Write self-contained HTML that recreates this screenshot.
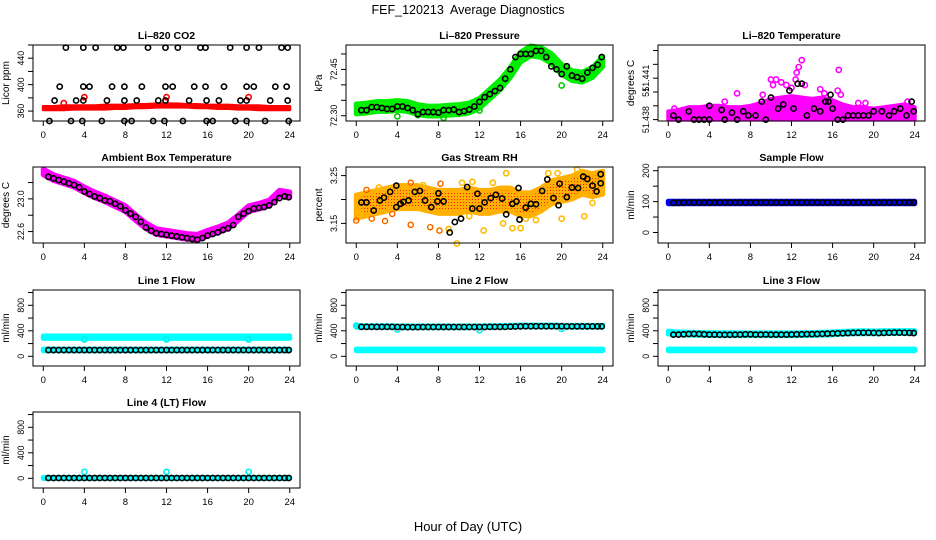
<!DOCTYPE html>
<html><head><meta charset="utf-8"><style>
html,body{margin:0;padding:0;background:#fff;}
svg{display:block;font-family:"Liberation Sans",sans-serif;}
.pre{white-space:pre;}
</style></head><body>
<svg id="chart" width="936" height="540" viewBox="0 0 936 540" xmlns="http://www.w3.org/2000/svg">
<defs>
<pattern id="rhpat" width="3" height="3" patternUnits="userSpaceOnUse">
<rect width="3" height="3" fill="#ffb000"/>
<rect x="1" y="1" width="1" height="1" fill="#ff2000"/>
</pattern>
</defs>
<rect width="936" height="540" fill="#fff"/>
<text class="pre" x="468" y="14" text-anchor="middle" font-size="12.5">FEF_120213  Average Diagnostics</text>
<text x="468" y="531" text-anchor="middle" font-size="13">Hour of Day (UTC)</text>
</svg>
<script>
const T=[0.5,1,1.5,2,2.5,3,3.5,4,4.5,5,5.5,6,6.5,7,7.5,8,8.5,9,9.5,10,10.5,11,11.5,12,12.5,13,13.5,14,14.5,15,15.5,16,16.5,17,17.5,18,18.5,19,19.5,20,20.5,21,21.5,22,22.5,23,23.5,23.9];
const H=[0,1,2,3,4,5,6,7,8,9,10,11,12,13,14,15,16,17,18,19,20,21,22,23,24];
const xTicks=[0,4,8,12,16,20,24];

// CO2
const co2BandLo=[362,362,362,363,363,363,363,364,364,365,365,366,366,366,366,365,365,364,364,363,363,362,362,362,362];
const co2BandHi=[367,367,368,368,368,368,369,369,369,370,370,371,371,371,370,370,369,369,369,368,368,368,367,367,367];
const co2RedT=[2,4,12,20];
const co2RedV=[372,381,381,381];
const co2BlackT=[2.2,3.9,5.1,7.2,7.8,10.2,11.9,13.1,15.3,15.8,18.2,19.8,21.0,23.2,23.8, 1.6,3.9,4.5,6.7,7.9,9.6,11.9,12.6,14.7,15.8,17.6,19.8,20.5,22.6,23.7, 1.1,3.2,3.9,6.2,7.9,9.1,11.2,11.9,14.2,15.9,17.1,19.2,19.8,22.1,23.8, 0.6,2.7,3.8,5.7,7.9,8.6,10.7,11.8,13.6,15.9,16.5,18.7,19.8,21.6,23.9];
const co2BlackV=[456,456,456,456,456,456,456,456,456,456,456,456,456,456,456, 397,397,397,397,397,397,397,397,397,397,397,397,397,397,397, 376,376,376,376,376,376,376,376,376,376,376,376,376,376,376, 345,345,345,345,345,345,345,345,345,345,345,345,345,345,345];

// Pressure
const presCenter=[72.322,72.325,72.33,72.33,72.333,72.33,72.32,72.315,72.315,72.318,72.32,72.325,72.34,72.37,72.40,72.44,72.49,72.51,72.505,72.485,72.45,72.43,72.425,72.44,72.475];
const presOutT=[4,12,20,6,8.5];
const presOutV=[72.298,72.317,72.398,72.302,72.293];
const presBlack=[72.318,72.318,72.328,72.328,72.325,72.322,72.322,72.33,72.33,72.325,72.318,72.305,72.312,72.312,72.312,72.31,72.318,72.318,72.32,72.312,72.315,72.32,72.33,72.345,72.36,72.37,72.38,72.39,72.42,72.45,72.49,72.50,72.5,72.5,72.51,72.51,72.49,72.46,72.45,72.435,72.46,72.43,72.425,72.42,72.44,72.455,72.465,72.49];

// Li-820 temperature
const tempUpper=[51.4386,51.4387,51.4389,51.4389,51.439,51.439,51.4389,51.4389,51.439,51.4392,51.4395,51.4396,51.4397,51.4396,51.4395,51.4396,51.4394,51.4391,51.4389,51.4389,51.4388,51.4389,51.439,51.4391,51.4389];
const tempLower=[51.438,51.438,51.438,51.438,51.438,51.438,51.438,51.438,51.438,51.438,51.438,51.438,51.438,51.438,51.438,51.438,51.438,51.438,51.438,51.438,51.438,51.438,51.438,51.438,51.438];
const tempOutT=[10,10.5,11,12.5,12.7,13,12.4,16.6,16.5,11.5,6.7,5.5,9.2,14.8,15.2,18.5,19.2,23.3,12,13.3,0.6,10.2,16.8];
const tempOutV=[51.4409,51.4409,51.4407,51.4414,51.4418,51.4423,51.4409,51.4416,51.4401,51.4405,51.4399,51.4393,51.4398,51.4402,51.4399,51.4392,51.4392,51.4393,51.4403,51.4405,51.4388,51.4405,51.4398];
const tempBlackT=[0.5,1,2,2.5,3,3.5,4,4,5.2,5.5,6.2,6.7,7.3,7.8,8.5,9.1,9.5,10,10.7,11.2,11.8,12.2,12.6,13,13.5,14.2,14.8,15.3,15.6,15.8,16,16.5,17,17.5,18,18.5,19,19.5,20,20.8,21.5,22,22.6,23.2,23.7,23.9];
const tempBlackV=[51.4383,51.438,51.4386,51.438,51.438,51.438,51.439,51.438,51.4387,51.438,51.4385,51.438,51.4386,51.4383,51.4383,51.4393,51.438,51.4396,51.4388,51.4391,51.4401,51.4388,51.4406,51.4406,51.4383,51.4388,51.4386,51.4393,51.4393,51.4398,51.4388,51.438,51.438,51.4383,51.4383,51.4383,51.4383,51.4383,51.4386,51.4386,51.4383,51.4386,51.4388,51.4383,51.4393,51.4386];

// Ambient box temperature
const ambCenter=[23.33,23.26,23.22,23.18,23.11,23.05,23.00,22.94,22.88,22.77,22.67,22.60,22.58,22.56,22.54,22.53,22.58,22.62,22.67,22.77,22.88,22.91,22.95,23.07,23.05];
const ambBlack=[23.27,23.25,23.23,23.21,23.19,23.17,23.14,23.09,23.06,23.03,23.01,22.98,22.97,22.94,22.91,22.86,22.82,22.78,22.72,22.65,22.61,22.58,22.57,22.56,22.55,22.54,22.53,22.52,22.51,22.50,22.52,22.55,22.57,22.59,22.62,22.64,22.68,22.78,22.82,22.85,22.88,22.89,22.90,22.92,22.96,23.01,23.03,23.02];

// Gas stream RH
const rhCenter=[3.185,3.19,3.195,3.20,3.205,3.205,3.205,3.20,3.195,3.195,3.195,3.20,3.195,3.195,3.20,3.20,3.19,3.19,3.20,3.215,3.22,3.225,3.235,3.23,3.235];
const rhOutT=[0,1,1.5,2.8,3.5,5.3,5.3,7.2,8.1,8.2,9,9.8,10.3,11.3,12.4,13.3,14.3,14.6,15.2,16,17.5,19.6,20,18.7,22.2,23,21.5,0.3,2.2,6.5,11,16.5];
const rhOutV=[3.156,3.22,3.16,3.155,3.17,3.147,3.235,3.142,3.135,3.233,3.138,3.108,3.235,3.237,3.135,3.235,3.15,3.255,3.14,3.14,3.157,3.255,3.16,3.255,3.165,3.193,3.263,3.17,3.225,3.23,3.165,3.16];
const rhBlackT=[0.5,1,1.7,2.3,2.7,3.3,3.9,3.9,4.3,4.6,5.1,5.7,6.2,6.7,7.3,7.9,8,8.5,9.1,9.6,10.2,10.8,11.3,11.8,12,12.5,13.1,13.6,14.2,14.6,15.2,15.6,15.8,15.9,16.5,17,17.5,18.1,18.6,19.2,19.7,19.8,20.5,21,21.6,22.1,22.5,23,23.4,23.8,23.8];
const rhBlackV=[3.194,3.194,3.177,3.198,3.204,3.216,3.229,3.184,3.191,3.195,3.198,3.216,3.218,3.198,3.184,3.196,3.213,3.196,3.131,3.153,3.160,3.226,3.181,3.212,3.181,3.194,3.203,3.210,3.202,3.169,3.191,3.196,3.224,3.158,3.183,3.191,3.190,3.218,3.242,3.203,3.188,3.233,3.205,3.225,3.224,3.248,3.243,3.229,3.217,3.253,3.234];

// Flows
const sampleCenter=[97,97,97,97,97,97,97,97,97,97,97,97,97,97,97,97,97,97,97,97,97,97,97,97,97];
const sampleBlack=[96,96,97,97,97,97,97,97,97,97,97,97,97,97,97,97,97,97,97,97,97,97,97,97,97,97,97,97,97,97,97,97,97,97,97,97,97,97,97,97,97,97,97,97,97,97,97,97];
const line1Cyan=[300,300,300,300,300,300,300,300,300,300,300,300,300,300,300,300,300,300,300,300,300,300,300,300,300];
const line1CyanLow=[100,100,100,100,100,100,100,100,100,100,100,100,100,100,100,100,100,100,100,100,100,100,100,100,100];
const line1DipT=[4,12,20];
const line1DipV=[265,265,265];
const line1Black=[98,98,98,98,98,98,98,98,98,98,98,98,98,98,98,98,98,98,98,98,98,98,98,98,98,98,98,98,98,98,98,98,98,98,98,98,98,98,98,98,98,98,98,98,98,98,98,98];
const line2Cyan=[470,465,465,465,462,462,462,462,462,462,462,462,462,465,468,472,475,475,475,475,472,472,472,472,472];
const line2CyanLow=[100,100,100,100,100,100,100,100,100,100,100,100,100,100,100,100,100,100,100,100,100,100,100,100,100];
const line2DipT=[0,4,12,20];
const line2DipV=[480,420,410,430];
const line2Black=[462,462,462,462,462,462,462,460,460,458,458,458,460,460,460,460,460,460,460,460,460,460,460,460,460,462,462,462,462,465,468,470,472,472,472,472,472,472,472,472,470,470,470,470,470,470,470,470];
const line3Cyan=[372,360,355,352,350,348,347,346,346,346,346,346,346,348,350,355,360,370,375,378,375,378,380,380,378];
const line3CyanLow=[100,100,100,100,100,100,100,100,100,100,100,100,100,100,100,100,100,100,100,100,100,100,100,100,100];
const line3Black=[340,340,345,350,352,350,345,340,340,338,338,338,340,340,345,345,340,340,342,340,340,340,340,342,345,345,348,348,350,352,355,358,360,362,365,368,370,370,370,368,365,368,370,372,372,370,368,365];
const line4Cyan=[5,5,5,5,5,5,5,5,5,5,5,5,5,5,5,5,5,5,5,5,5,5,5,5,5];
const line4SpikeT=[4,12,20];
const line4SpikeV=[100,100,100];
const line4Black=[5,5,5,5,5,5,5,5,5,5,5,5,5,5,5,5,5,5,5,5,5,5,5,5,5,5,5,5,5,5,5,5,5,5,5,5,5,5,5,5,5,5,5,5,5,5,5,5];

const NS="http://www.w3.org/2000/svg";
const svg=document.getElementById('chart');
const colL=[33,346,658], rowT=[45,167,290,412], PW=267, PH=76;
function mk(tag,attrs,parent){const e=document.createElementNS(NS,tag);for(const k in attrs)e.setAttribute(k,attrs[k]);(parent||svg).appendChild(e);return e;}

function panel(name,col,row,title,ylab,ymin,ymax,ticks,labels){
  const L=colL[col],Tp=rowT[row];
  const g=mk('g',{});
  
  
  const x=h=>L+(h+1)/26*PW;
  const y=v=>Tp+PH-(v-ymin)/(ymax-ymin)*PH;
  const tt=mk('text',{x:L+PW/2,y:Tp-6,'text-anchor':'middle','font-size':'10.5','font-weight':'bold'},g);
  tt.textContent=title;
  
  
  const yl=mk('text',{transform:`translate(${L-24},${Tp+PH/2}) rotate(-90)`,'text-anchor':'middle','font-size':'10'},g);
  yl.textContent=ylab;
  
  
  const ax=mk('g',{},g);
  
  
  xTicks.forEach(h=>{
    mk('line',{x1:x(h),x2:x(h),y1:Tp+PH,y2:Tp+PH+5,stroke:'#000','stroke-width':1},ax);
    const t=mk('text',{x:x(h),y:Tp+PH+17,'text-anchor':'middle','font-size':'9.5'},ax);t.textContent=h;
    
    
  });
  const ay=mk('g',{},g);
  
  
  ticks.forEach((v,i)=>{
    mk('line',{x1:L-5,x2:L,y1:y(v),y2:y(v),stroke:'#000','stroke-width':1},ay);
    if(labels[i]!==''){const t=mk('text',{transform:`translate(${L-9},${y(v)}) rotate(-90)`,'text-anchor':'middle','font-size':'8.8'},ay);t.textContent=labels[i];
      
      }
  });
  const plot=mk('g',{},g);
  
  
  mk('rect',{x:L,y:Tp,width:PW,height:PH,fill:'none',stroke:'#000','stroke-width':1},g);
  return {x,y,g:plot};
}
function band(p,hours,lo,hi,color,nm,sw,stroke){
  const up=hours.map((h,i)=>p.x(h)+','+p.y(hi[i]));
  const dn=hours.map((h,i)=>p.x(h)+','+p.y(lo[i])).reverse();
  const e=mk('polygon',{points:up.concat(dn).join(' '),fill:color,stroke:stroke||color,'stroke-width':sw||5,'stroke-linejoin':'round'},p.g);
  
  
}
function bandC(p,hours,c,hw,color,nm,sw,stroke){band(p,hours,c.map(v=>v-hw),c.map(v=>v+hw),color,nm,sw,stroke);}
function pts(p,ts,vs,color,nm,sw){
  const g=mk('g',{},p.g);
  
  
  ts.forEach((t,i)=>{
    const c=mk('circle',{cx:p.x(t),cy:p.y(vs[i]),r:2.6,fill:'none',stroke:color,'stroke-width':sw||1.6},g);
    
    
  });
}

// Row 1
let p=panel('li820-co2',0,0,'Li\u2013820 CO2','Licor ppm',345,460,[360,380,400,420,440,460],['360','','400','','440','']);
band(p,H,co2BandLo,co2BandHi,'#ff0000','co2-red-band',3);
pts(p,co2RedT,co2RedV,'#ff0000','co2-red-points');
pts(p,co2BlackT,co2BlackV,'#000','co2-black-points');

p=panel('li820-pressure',1,0,'Li\u2013820 Pressure','kPa',72.283,72.529,[72.30,72.35,72.40,72.45,72.50],['72.30','','','72.45','']);
bandC(p,H,presCenter,0.016,'#00ee00','pressure-green-band');
pts(p,presOutT,presOutV,'#00cc00','pressure-green-points');
pts(p,T,presBlack,'#000','pressure-black-points');

p=panel('li820-temperature',2,0,'Li\u2013820 Temperature','degrees C',51.4379,51.4434,[51.438,51.439,51.440,51.441,51.442,51.443],['51.438','','51','51.441','','']);
band(p,H,tempLower,tempUpper,'#ff00ff','temperature-magenta-band',4);
pts(p,tempOutT,tempOutV,'#ff00ff','temperature-magenta-points');
pts(p,tempBlackT,tempBlackV,'#000','temperature-black-points');

// Row 2
p=panel('ambient-box-temperature',0,1,'Ambient Box Temperature','degrees C',22.46,23.39,[22.6,22.8,23.0,23.2],['22.6','','23.0','']);
bandC(p,H,ambCenter,0.035,'#ff00ff','ambient-magenta-band');
pts(p,T,ambBlack,'#000','ambient-black-points');

p=panel('gas-stream-rh',1,1,'Gas Stream RH','percent',3.109,3.268,[3.15,3.20,3.25],['3.15','','3.25']);
bandC(p,H,rhCenter,0.024,'url(#rhpat)','rh-orange-band',5,'#ffb000');
pts(p,rhOutT,rhOutV,'#ffbb00','rh-orange-points');
pts(p,rhOutT.slice(0,10),rhOutV.slice(0,10),'#ff3300','rh-red-points',0.8);
pts(p,rhBlackT,rhBlackV,'#000','rh-black-points');

p=panel('sample-flow',2,1,'Sample Flow','ml/min',-34,212,[0,50,100,150,200],['0','','100','','200']);
bandC(p,H,sampleCenter,4,'#0000ee','sample-blue-band');
pts(p,T,sampleBlack,'#000','sample-black-points');

// Row 3
const flowTicks=[0,200,400,600,800,1000], flowLabels=['0','','400','','800',''];
p=panel('line1-flow',0,2,'Line 1 Flow','ml/min',-152,1040,flowTicks,flowLabels);
bandC(p,H,line1Cyan,18,'#00ffff','line1-cyan-band');
bandC(p,H,line1CyanLow,12,'#00ffff','line1-cyan-low-band');
pts(p,line1DipT,line1DipV,'#00eeee','line1-cyan-points');
pts(p,T,line1Black,'#000','line1-black-points');

p=panel('line2-flow',1,2,'Line 2 Flow','ml/min',-152,1040,flowTicks,flowLabels);
bandC(p,H,line2CyanLow,12,'#00ffff','line2-cyan-low-band');
bandC(p,H,line2Cyan,14,'#00ffff','line2-cyan-band');
pts(p,line2DipT,line2DipV,'#00eeee','line2-cyan-points');
pts(p,T,line2Black,'#000','line2-black-points');

p=panel('line3-flow',2,2,'Line 3 Flow','ml/min',-152,1040,flowTicks,flowLabels);
bandC(p,H,line3CyanLow,12,'#00ffff','line3-cyan-low-band');
bandC(p,H,line3Cyan,22,'#00ffff','line3-cyan-band');
pts(p,T,line3Black,'#000','line3-black-points');

// Row 4
p=panel('line4-flow',0,3,'Line 4 (LT) Flow','ml/min',-152,1040,flowTicks,flowLabels);
bandC(p,H,line4Cyan,8,'#00ffff','line4-cyan-band');
pts(p,line4SpikeT,line4SpikeV,'#00eeee','line4-cyan-points');
pts(p,T,line4Black,'#000','line4-black-points');
</script>
</body></html>
